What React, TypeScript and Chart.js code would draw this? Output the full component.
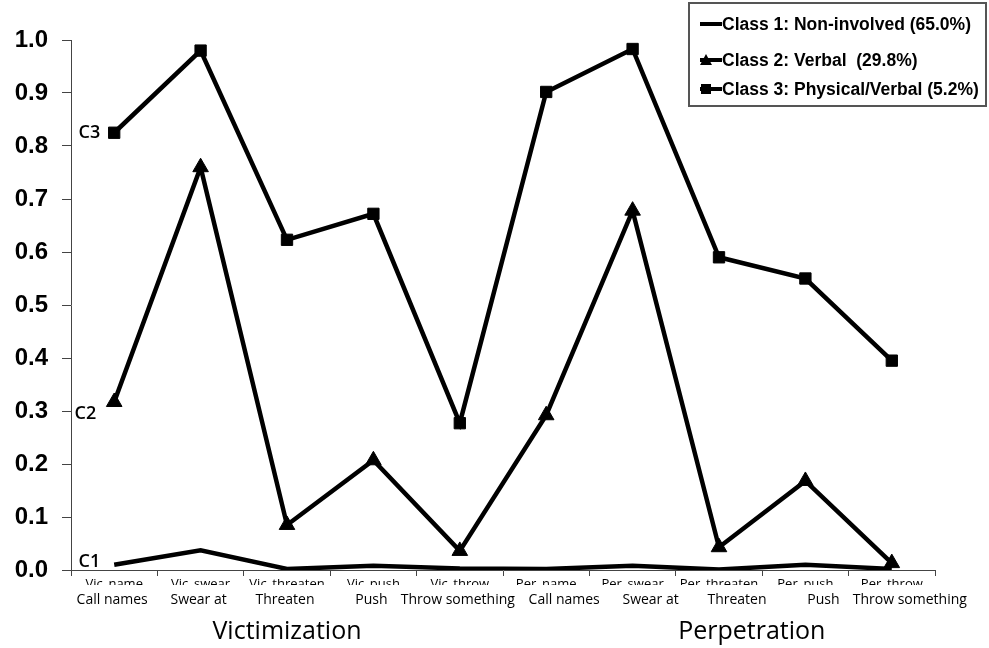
import React, { useEffect, useRef } from "react";
import { Chart, registerables } from "chart.js";

Chart.register(...registerables);

const varNames = ["Vic_name", "Vic_swear", "Vic_threaten", "Vic_push", "Vic_throw", "Per_name", "Per_swear", "Per_threaten", "Per_push", "Per_throw"];
const itemLabels = ["Call names", "Swear at", "Threaten", "Push", "Throw something", "Call names", "Swear at", "Threaten", "Push", "Throw something"];
const groupLabels = ["Victimization", "Perpetration"];
const class1 = [0.01, 0.037, 0.002, 0.008, 0.003, 0.002, 0.008, 0.001, 0.01, 0.002];
const class2 = [0.317, 0.76, 0.085, 0.207, 0.036, 0.292, 0.678, 0.043, 0.168, 0.013];
const class3 = [0.825, 0.98, 0.623, 0.672, 0.277, 0.902, 0.983, 0.59, 0.55, 0.395];
const seriesNames = ["Class 1: Non-involved (65.0%)", "Class 2: Verbal  (29.8%)", "Class 3: Physical/Verbal (5.2%)"];
const lineTags = ["C1", "C2", "C3"];

const overlay = {
  id: "overlay",
  afterDraw(chart: any) {
    const ctx = chart.ctx as CanvasRenderingContext2D;
    const x = chart.scales.x;
    const area = chart.chartArea;
    ctx.save();
    // clipped variable names under the axis
    ctx.save();
    ctx.beginPath();
    ctx.rect(0, area.bottom + 9, chart.width, 6);
    ctx.clip();
    ctx.fillStyle = "#000";
    ctx.font = "13px 'Open Sans'";
    ctx.textAlign = "center";
    ctx.textBaseline = "top";
    varNames.forEach((n, i) => ctx.fillText(n, x.getPixelForValue(i), area.bottom + 8));
    ctx.restore();

    // item labels (typed row under the axis)
    ctx.fillStyle = "#000";
    ctx.font = "14px 'Open Sans'";
    ctx.textAlign = "center";
    ctx.textBaseline = "middle";
    itemLabels.forEach((t, i) => {
      const shift = i < 5 ? -2 : 18;
      ctx.fillText(t, x.getPixelForValue(i) + shift, 600);
    });

    // group labels
    ctx.font = "25px 'Open Sans'";
    const step = x.getPixelForValue(1) - x.getPixelForValue(0);
    const g1 = x.getPixelForValue(2);
    const g2 = x.getPixelForValue(7) + 0.38 * step;
    ctx.fillText(groupLabels[0], g1, 632);
    ctx.fillText(groupLabels[1], g2, 632);

    // line tags C1 C2 C3
    ctx.font = "600 18px 'Open Sans'";
    ctx.textAlign = "right";
    const dy = [-3, 12, 0];
    const dx = [-14, -18, -14];
    chart.data.datasets.forEach((ds: any, di: number) => {
      const meta = chart.getDatasetMeta(di);
      const p = meta.data[0];
      ctx.fillText(lineTags[di], p.x + dx[di], p.y + dy[di]);
    });

    // legend
    ctx.strokeStyle = "#555";
    ctx.lineWidth = 2;
    ctx.strokeRect(689, 3, 297, 103);
    const rows = [24, 60, 89];
    ctx.font = "bold 17.5px 'Liberation Sans'";
    ctx.textAlign = "left";
    ctx.textBaseline = "middle";
    rows.forEach((ry, i) => {
      ctx.strokeStyle = "#000";
      ctx.lineWidth = 4;
      ctx.beginPath();
      ctx.moveTo(700, ry);
      ctx.lineTo(722, ry);
      ctx.stroke();
      ctx.fillStyle = "#000";
      if (i === 1) {
        ctx.beginPath();
        ctx.moveTo(706, ry - 6);
        ctx.lineTo(712, ry + 5);
        ctx.lineTo(700, ry + 5);
        ctx.closePath();
        ctx.fill();
      } else if (i === 2) {
        ctx.fillRect(701, ry - 5, 10, 10);
      }
      ctx.fillText(seriesNames[i], 722, ry + 1);
    });
    ctx.restore();
  },
};

export default function App() {
  const ref = useRef<HTMLCanvasElement>(null);
  useEffect(() => {
    document.body.style.margin = "0";
    const common = {
      borderColor: "#000",
      backgroundColor: "#000",
      borderWidth: 4.5,
      tension: 0,
      fill: false,
    };
    const chart = new Chart(ref.current!, {
      type: "line",
      data: {
        labels: varNames,
        datasets: [
          { ...common, label: seriesNames[0], data: class1, pointRadius: 0 },
          { ...common, label: seriesNames[1], data: class2, pointStyle: "triangle", pointRadius: 9, pointBorderWidth: 1 },
          { ...common, label: seriesNames[2], data: class3, pointStyle: "rect", pointRadius: 8, pointBorderWidth: 1 },
        ],
      },
      options: {
        responsive: false,
        animation: false,
        layout: { padding: { top: 40, right: 54, left: 0, bottom: 0 } },
        plugins: { legend: { display: false }, tooltip: { enabled: false } },
        scales: {
          x: {
            offset: true,
            grid: { offset: true, drawOnChartArea: false, tickLength: 6, color: "#444" },
            border: { color: "#444", width: 1 },
            ticks: {
              autoSkip: false,
              maxRotation: 0,
              color: "rgba(0,0,0,0)",
              font: { family: "'Open Sans'", size: 14 },
              callback: () => "",
            },
            afterFit: (s: any) => {
              s.height = 78;
            },
          },
          y: {
            min: 0,
            max: 1,
            grid: { drawOnChartArea: false, tickLength: 9, color: "#444" },
            border: { color: "#444", width: 1 },
            ticks: {
              stepSize: 0.1,
              padding: 14,
              color: "#000",
              font: { family: "'Liberation Sans'", size: 24, weight: "bold" },
              callback: (v: any) => Number(v).toFixed(1),
            },
            afterFit: (s: any) => {
              s.width = 71;
            },
          },
        },
      },
      plugins: [overlay],
    } as any);
    return () => chart.destroy();
  }, []);
  return <canvas ref={ref} width={989} height={648} style={{ display: "block" }} />;
}
